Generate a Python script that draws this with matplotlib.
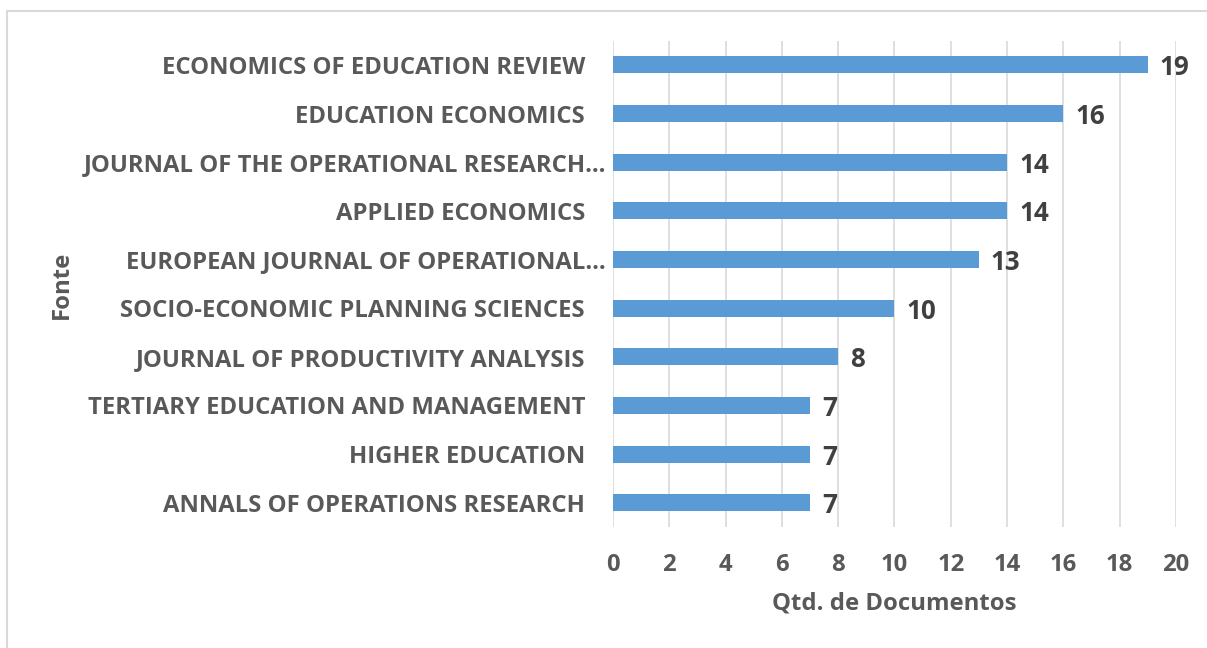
import matplotlib
matplotlib.use("Agg")
import matplotlib.pyplot as plt
from matplotlib.patches import Rectangle

sources = [
    "ECONOMICS OF EDUCATION REVIEW",
    "EDUCATION ECONOMICS",
    "JOURNAL OF THE OPERATIONAL RESEARCH…",
    "APPLIED ECONOMICS",
    "EUROPEAN JOURNAL OF OPERATIONAL…",
    "SOCIO-ECONOMIC PLANNING SCIENCES",
    "JOURNAL OF PRODUCTIVITY ANALYSIS",
    "TERTIARY EDUCATION AND MANAGEMENT",
    "HIGHER EDUCATION",
    "ANNALS OF OPERATIONS RESEARCH",
]
counts = [19, 16, 14, 14, 13, 10, 8, 7, 7, 7]
x_ticks = [0, 2, 4, 6, 8, 10, 12, 14, 16, 18, 20]

FONT = "Open Sans"
GRAY = "#595959"
DARK = "#404040"
FS = 17.2

fig = plt.figure(figsize=(12.07, 6.48), dpi=100)
ax = fig.add_axes([613 / 1207, 1 - 527 / 648, (1176 - 613) / 1207, (527 - 40.6) / 648])

# outer frame (left/top visible, right/bottom cut)
fig.patches.append(Rectangle((7 / 1207, -0.1), 1.2, 1 - 11 / 648 + 0.1,
                             transform=fig.transFigure, fill=False,
                             edgecolor="#D9D9D9", linewidth=1.5))

ypos = list(range(len(sources)))
ax.barh(ypos, counts, height=0.35, color="#5B9BD5", zorder=3)
ax.set_ylim(len(sources) - 0.5, -0.5)
ax.set_xlim(0, 20)
ax.set_xticks(x_ticks)
ax.set_xticklabels([str(t) for t in x_ticks], fontsize=FS, fontweight="bold",
                   color=GRAY, family=FONT)
ax.set_yticks(ypos)
ax.set_yticklabels(sources, fontsize=FS, fontweight="bold", color=GRAY, family=FONT)
ax.tick_params(axis="both", length=0)
ax.tick_params(axis="x", pad=19)
ax.tick_params(axis="y", pad=5)
# labels without ellipsis get extra gap (trailing space in source)
fig.canvas.draw()
for lab, s in zip(ax.get_yticklabels(), sources):
    if not s.endswith("…"):
        lab.set_x(-0.0373)
ax.grid(axis="x", color="#D9D9D9", linewidth=1.2, zorder=0)
ax.grid(axis="y", visible=False)
for s in ax.spines.values():
    s.set_visible(False)

for y, v in zip(ypos, counts):
    ax.annotate(str(v), (v, y), xytext=(12, -3), textcoords="offset pixels",
                va="center", ha="left", fontsize=FS + 1.5, fontweight="bold",
                color=DARK, family=FONT)

ax.set_xlabel("Qtd. de Documentos", fontsize=FS, fontweight="bold",
              color=GRAY, family=FONT, labelpad=10)
fig.text(62 / 1207, 1 - 285 / 648, "Fonte", rotation=90, ha="center", va="center",
         fontsize=FS, fontweight="bold", color=GRAY, family=FONT)

fig.savefig("out.png", dpi=100)
